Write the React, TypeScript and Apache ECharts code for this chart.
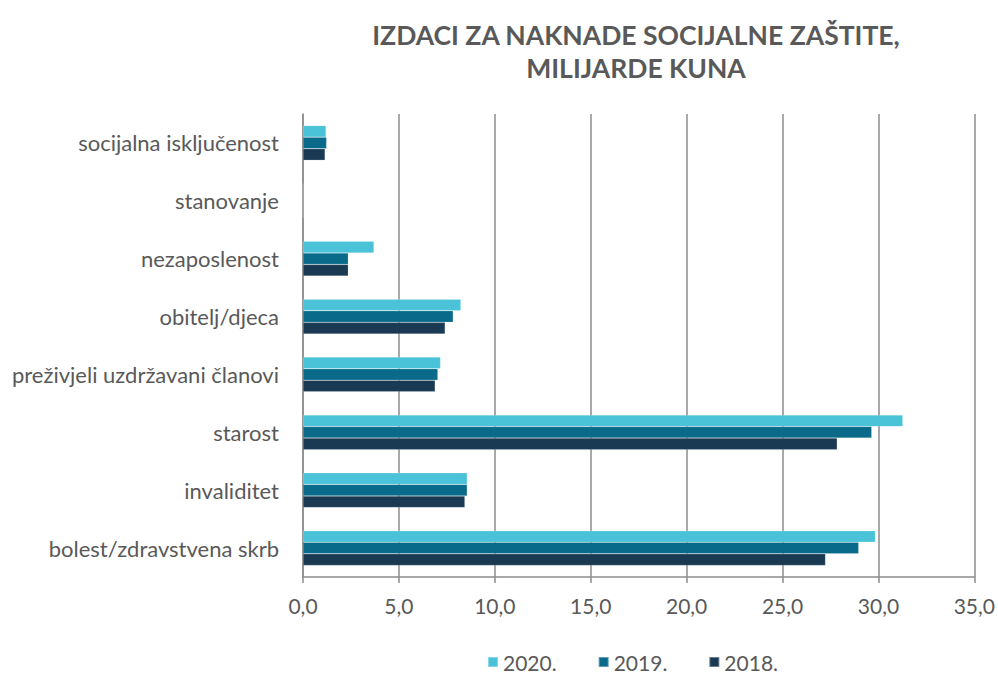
import React, { useEffect, useRef } from "react";
import * as echarts from "echarts";

const categories = [
  "bolest/zdravstvena skrb",
  "invaliditet",
  "starost",
  "preživjeli uzdržavani članovi",
  "obitelj/djeca",
  "nezaposlenost",
  "stanovanje",
  "socijalna isključenost",
];
const seriesNames = ["2020.", "2019.", "2018."];
const values2020 = [29.84, 8.56, 31.27, 7.17, 8.23, 3.7, 0, 1.2];
const values2019 = [28.97, 8.56, 29.65, 7.03, 7.83, 2.36, 0, 1.23];
const values2018 = [27.24, 8.44, 27.85, 6.89, 7.41, 2.36, 0, 1.15];
const colors = ["#4AC3D8", "#0A6A8A", "#1A3A53"];
const titleLines = ["IZDACI ZA NAKNADE SOCIJALNE ZAŠTITE,", "MILIJARDE KUNA"];

export default function App() {
  const ref = useRef<HTMLDivElement>(null);
  useEffect(() => {
    document.body.style.margin = "0";
    if (!ref.current) return;
    const chart = echarts.init(ref.current, null, { renderer: "svg" });
    const font = "Lato, 'Open Sans', sans-serif";
    const data = [values2020, values2019, values2018];
    chart.setOption({
      animation: false,
      textStyle: { fontFamily: font },
      graphic: [
        {
          type: "text",
          x: 636,
          y: 18,
          style: {
            text: titleLines.join("\n"),
            textAlign: "center",
            fontSize: 26.5,
            fontWeight: "bold",
            lineHeight: 33,
            fill: "#595959",
            fontFamily: font,
          },
        },
      ],
      legend: {
        top: 651,
        left: 487,
        padding: 0,
        icon: "rect",
        itemWidth: 10,
        itemHeight: 10,
        itemGap: 41,
        textStyle: { fontSize: 21, lineHeight: 22, color: "#595959", fontFamily: font },
        data: seriesNames,
      },
      grid: { left: 303, right: 23, top: 114, bottom: 98, containLabel: false },
      xAxis: {
        type: "value",
        min: 0,
        max: 35,
        interval: 5,
        axisLine: { show: true, lineStyle: { color: "#8C8C8C", width: 1.5 } },
        axisTick: { show: true, length: 6, lineStyle: { color: "#8C8C8C", width: 1.5 } },
        splitLine: { show: true, lineStyle: { color: "#8C8C8C", width: 1.5 } },
        axisLabel: {
          fontSize: 21,
          color: "#595959",
          margin: 18,
          formatter: (v: number) => v.toFixed(1).replace(".", ","),
        },
      },
      yAxis: {
        type: "category",
        data: categories,
        axisLine: { show: true, lineStyle: { color: "#8C8C8C", width: 1.5 } },
        axisTick: { show: false },
        axisLabel: { fontSize: 22, color: "#595959", margin: 24 },
      },
      series: seriesNames.map((name, i) => ({
        name,
        type: "bar",
        data: data[i],
        barGap: "0%",
        barCategoryGap: "40%",
        itemStyle: { color: colors[i], borderColor: "rgba(255,255,255,0.35)", borderWidth: 0.5 },
      })),
    });
    return () => chart.dispose();
  }, []);
  return <div ref={ref} style={{ width: 998, height: 675 }} />;
}
